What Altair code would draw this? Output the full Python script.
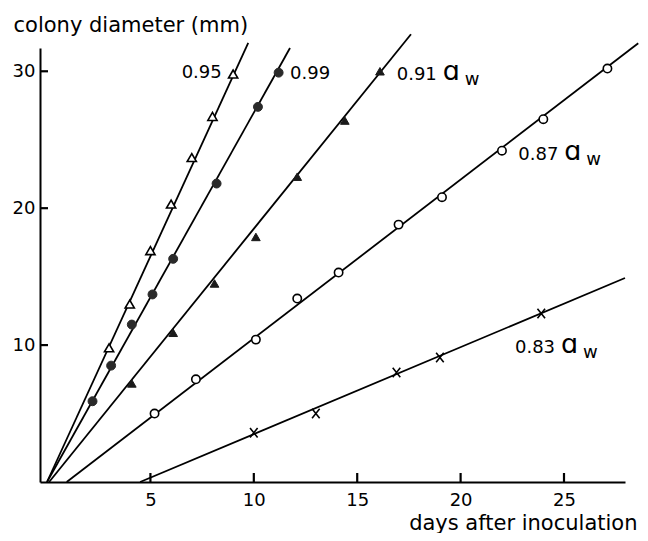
import altair as alt
import pandas as pd

# ---- data ----
aw95_days = [3, 4, 5, 6, 7, 8, 9]
aw95_mm = [9.8, 13.0, 16.9, 20.3, 23.7, 26.7, 29.8]
aw99_days = [2.2, 3.1, 4.1, 5.1, 6.1, 8.2, 10.2, 11.2]
aw99_mm = [5.9, 8.5, 11.5, 13.7, 16.3, 21.8, 27.4, 29.9]
aw91_days = [4.1, 6.1, 8.1, 10.1, 12.1, 14.4, 16.1]
aw91_mm = [7.2, 10.9, 14.5, 17.9, 22.3, 26.4, 30.0]
aw87_days = [5.2, 7.2, 10.1, 12.1, 14.1, 17.0, 19.1, 22.0, 24.0, 27.1]
aw87_mm = [5.0, 7.5, 10.4, 13.4, 15.3, 18.8, 20.8, 24.2, 26.5, 30.2]
aw83_days = [10.0, 13.0, 16.9, 19.0, 23.9]
aw83_mm = [3.6, 5.0, 8.0, 9.1, 12.3]

# fitted lines (start / end)
fit_series = ["0.95", "0.99", "0.91", "0.87", "0.83"]
fit_x0 = [0.0, 0.0, 0.1, 0.95, 4.5]
fit_y0 = [0.0, 0.0, 0.0, 0.0, 0.0]
fit_x1 = [9.73, 11.75, 17.6, 28.59, 27.95]
fit_y1 = [32.07, 31.7, 32.7, 32.05, 14.9]

# labels
lab_text = ["0.95", "0.99", "0.91", "0.87", "0.83"]
lab_x = [6.51, 11.75, 16.91, 22.79, 22.63]
lab_y = [29.54, 29.42, 29.34, 23.5, 9.42]
lab_aw = [False, False, True, True, True]

x_ticks = [5, 10, 15, 20, 25]
y_ticks = [10, 20, 30]
x_min, x_max = -0.34, 27.95
y_min, y_max = 0, 31.7

FONT = "DejaVu Sans"
W, H = 585, 434

xs = alt.Scale(domain=[x_min, x_max], nice=False, zero=False)
ys = alt.Scale(domain=[y_min, y_max], nice=False, zero=False)

def pts(days, mm):
    return pd.DataFrame({"day": days, "mm": mm})

fits = pd.DataFrame({"s": fit_series, "x0": fit_x0, "y0": fit_y0, "x1": fit_x1, "y1": fit_y1})
labs = pd.DataFrame({"t": lab_text, "x": lab_x, "y": lab_y, "aw": lab_aw})
awlabs = labs[labs["aw"]]

xaxis = alt.Axis(values=x_ticks, ticks=False, grid=False, domainWidth=2, domainColor="black",
                 labelFont=FONT, labelFontSize=18, labelColor="black", labelPadding=9,
                 title="days after inoculation", titleFont=FONT, titleFontSize=21,
                 titleFontWeight="normal", titleColor="black", titleX=597, titleY=47,
                 titleAlign="right", titleBaseline="alphabetic")
yaxis = alt.Axis(values=y_ticks, ticks=False, grid=False, domainWidth=2, domainColor="black",
                 labelFont=FONT, labelFontSize=18, labelColor="black", labelPadding=5,
                 title="colony diameter (mm)", titleFont=FONT, titleFontSize=21,
                 titleFontWeight="normal", titleColor="black", titleAngle=0, titleX=-27,
                 titleY=-17, titleAlign="left", titleBaseline="alphabetic")

base_axes = alt.Chart(pd.DataFrame({"day": [x_min], "mm": [y_min]})).mark_point(opacity=0).encode(
    x=alt.X("day:Q", scale=xs, axis=xaxis),
    y=alt.Y("mm:Q", scale=ys, axis=yaxis),
)

lines = alt.Chart(fits).mark_rule(color="black", strokeWidth=1.8).encode(
    x=alt.X("x0:Q", scale=xs), y=alt.Y("y0:Q", scale=ys), x2="x1:Q", y2="y1:Q")

# inward tick marks
xt = alt.Chart(pd.DataFrame({"xv": x_ticks})).mark_rule(color="black", strokeWidth=2.2).encode(
    x=alt.X("xv:Q", scale=xs), y=alt.value(H), y2=alt.value(H - 9))
yt = alt.Chart(pd.DataFrame({"yv": y_ticks})).mark_rule(color="black", strokeWidth=2.2).encode(
    y=alt.Y("yv:Q", scale=ys), x=alt.value(0), x2=alt.value(8))

def marks(df, **kw):
    return alt.Chart(df).mark_point(**kw).encode(
        x=alt.X("day:Q", scale=xs), y=alt.Y("mm:Q", scale=ys))

m95 = marks(pts(aw95_days, aw95_mm), shape="triangle-up", filled=True, fill="white",
            stroke="black", strokeWidth=1.6, size=85, opacity=1)
m99 = marks(pts(aw99_days, aw99_mm), shape="circle", filled=True, fill="#2a2a2a",
            stroke="#2a2a2a", strokeWidth=1, size=80, opacity=1)
m91 = marks(pts(aw91_days, aw91_mm), shape="triangle-up", filled=True, fill="#1a1a1a",
            stroke="#1a1a1a", strokeWidth=1, size=75, opacity=1)
m87 = marks(pts(aw87_days, aw87_mm), shape="circle", filled=True, fill="white",
            stroke="black", strokeWidth=1.6, size=70, opacity=1)
m83 = marks(pts(aw83_days, aw83_mm), shape="M-0.8,-1L0.8,1M-0.8,1L0.8,-1", filled=False,
            stroke="black", strokeWidth=1.6, size=90, opacity=1)

num = alt.Chart(labs).mark_text(font=FONT, fontSize=18, align="left", baseline="alphabetic",
                                color="black").encode(
    x=alt.X("x:Q", scale=xs), y=alt.Y("y:Q", scale=ys), text="t:N")
alpha = alt.Chart(awlabs).mark_text(font=FONT, fontSize=27, align="left", baseline="alphabetic",
                                    color="black", dx=46, text="ɑ").encode(
    x=alt.X("x:Q", scale=xs), y=alt.Y("y:Q", scale=ys))
wsub = alt.Chart(awlabs).mark_text(font=FONT, fontSize=18, align="left", baseline="alphabetic",
                                   color="black", dx=68, dy=5, text="w").encode(
    x=alt.X("x:Q", scale=xs), y=alt.Y("y:Q", scale=ys))

chart = alt.layer(base_axes, lines, xt, yt, m95, m99, m91, m87, m83, num, alpha, wsub).properties(
    width=W, height=H, autosize="none",
    padding={"left": 32, "top": 40, "right": 15, "bottom": 51},
    background="white",
).configure_view(strokeWidth=0)

chart.save("out.html", embed_options={"renderer": "svg", "actions": False})
